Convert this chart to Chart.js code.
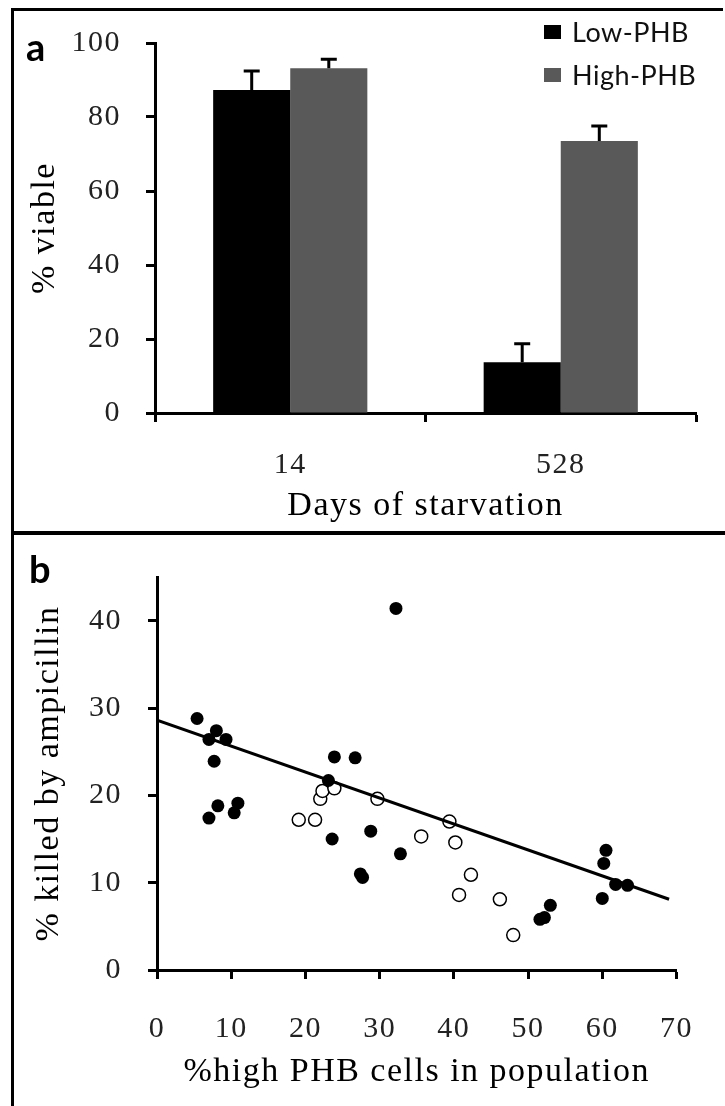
<!DOCTYPE html>
<html>
<head>
<meta charset="utf-8">
<script src="https://cdn.jsdelivr.net/npm/chart.js@4.4.1/dist/chart.umd.min.js"></script>
<style>
  body { margin: 0; background: #fff; }
  #wrap { position: relative; width: 725px; height: 1106px; overflow: hidden; background: #fff; }
  canvas { position: absolute; left: 0; }
  #chartA { top: 0; }
  #chartB { top: 533px; }
  .line { position: absolute; background: #000; }
  .tag { position: absolute; font-family: Lato; font-weight: bold; font-size: 38px; line-height: 38px; color: #000; }
  #legend { position: absolute; left: 544px; top: 10px; font-family: Lato; font-size: 27px; color: #111; letter-spacing: 0.5px; }
  #legend .row { display: flex; align-items: center; height: 43px; }
  #legend .sw { width: 17px; height: 14px; margin-right: 11px; }
</style>
</head>
<body>
<div id="wrap">
  <!-- cadre des deux panneaux -->
  <div class="line" style="left:11px;top:8px;width:712px;height:3px"></div>
  <div class="line" style="left:11px;top:8px;width:3px;height:1098px"></div>
  <div class="line" style="left:11px;top:531px;width:714px;height:4px"></div>

  <canvas id="chartA" width="725" height="533"></canvas>
  <canvas id="chartB" width="725" height="573"></canvas>

  <div class="tag" style="left:26px;top:27px">a</div>
  <div class="tag" style="left:29px;top:549px">b</div>
  <div id="legend"></div>
</div>

<script>
// --- panneau a : viabilité ---
const days = ['14', '528'];
const lowPHB = [87.3, 13.7];
const highPHB = [93.2, 73.5];
const lowErr = [5.1, 5.0];
const highErr = [2.4, 4.1];
const yTicksA = [0, 20, 40, 60, 80, 100];

// --- panneau b : ampicilline ---
const filledX = [5.4, 7.0, 8.0, 9.3, 7.7, 8.2, 7.0, 10.9, 10.4, 23.1, 23.9, 26.7, 23.6, 28.8, 32.8, 27.4, 27.7, 32.2, 51.6, 52.2, 53.0, 60.5, 60.2, 60.0, 61.8, 63.4];
const filledY = [28.8, 26.4, 27.4, 26.4, 23.9, 18.8, 17.4, 19.1, 18.0, 21.7, 24.4, 24.3, 15.0, 15.9, 13.3, 11.0, 10.6, 41.4, 5.8, 6.0, 7.4, 13.7, 12.2, 8.2, 9.8, 9.7];
const openX = [19.1, 21.3, 22.0, 22.3, 23.9, 29.7, 35.6, 39.4, 40.2, 42.3, 40.7, 46.2, 48.0];
const openY = [17.2, 17.2, 19.6, 20.5, 20.8, 19.6, 15.3, 17.0, 14.6, 10.9, 8.6, 8.1, 4.0];
const trendX = [0, 69];
const trendY = [28.6, 8.1];
const xTicksB = [0, 10, 20, 30, 40, 50, 60, 70];
const yTicksB = [0, 10, 20, 30, 40];

const serif = 'Liberation Serif';

// espacement des lettres comme dans la figure d'origine
const spacing = {
  id: 'spacing',
  beforeUpdate(chart) { chart.ctx.letterSpacing = '1.5px'; },
  beforeDraw(chart) { chart.ctx.letterSpacing = '1.5px'; }
};

// barres d'erreur (seulement vers le haut)
const errorBars = {
  id: 'errorBars',
  afterDatasetsDraw(chart) {
    const ctx = chart.ctx;
    const yScale = chart.scales.y;
    chart.data.datasets.forEach((ds, i) => {
      const meta = chart.getDatasetMeta(i);
      meta.data.forEach((bar, j) => {
        const top = yScale.getPixelForValue(ds.data[j] + ds.errors[j]);
        ctx.save();
        ctx.strokeStyle = '#000';
        ctx.lineWidth = 3;
        ctx.beginPath();
        ctx.moveTo(bar.x, bar.y);
        ctx.lineTo(bar.x, top);
        ctx.moveTo(bar.x - 8, top);
        ctx.lineTo(bar.x + 8, top);
        ctx.stroke();
        ctx.restore();
      });
    });
  }
};

function axisGrid() {
  return { drawOnChartArea: false, drawTicks: true, tickLength: 9, tickWidth: 3, tickColor: '#000' };
}
const axisBorder = { display: true, color: '#000', width: 3 };
const tickFont = { family: serif, size: 30 };
const titleFont = { family: serif, size: 34 };

const chartA = new Chart(document.getElementById('chartA'), {
  type: 'bar',
  data: {
    labels: days,
    datasets: [
      { label: 'Low-PHB', data: lowPHB, errors: lowErr, backgroundColor: '#000000',
        categoryPercentage: 0.57, barPercentage: 1.0 },
      { label: 'High-PHB', data: highPHB, errors: highErr, backgroundColor: '#595959',
        categoryPercentage: 0.57, barPercentage: 1.0 }
    ]
  },
  options: {
    responsive: false,
    animation: false,
    layout: { padding: { top: 33, right: 29, left: 0, bottom: 0 } },
    plugins: { legend: { display: false }, tooltip: { enabled: false } },
    scales: {
      x: {
        offset: true,
        grid: Object.assign(axisGrid(), { offset: true }),
        border: axisBorder,
        ticks: { color: '#222', font: tickFont, padding: 25, maxRotation: 0 },
        title: { display: true, text: 'Days of starvation', color: '#000', font: titleFont, padding: { top: 0, bottom: 7 } },
        afterFit(s) { s.height = 120; }
      },
      y: {
        min: 0, max: 100,
        afterBuildTicks(s) { s.ticks = yTicksA.map(v => ({ value: v })); },
        grid: axisGrid(),
        border: axisBorder,
        ticks: { color: '#222', font: tickFont, padding: 25 },
        title: { display: true, text: '% viable', color: '#000', font: titleFont, padding: { top: 25, bottom: 0 } },
        afterFit(s) { s.width = 155; }
      }
    }
  },
  plugins: [spacing, errorBars]
});

// légende du panneau a
const legend = document.getElementById('legend');
chartA.data.datasets.forEach(ds => {
  const row = document.createElement('div');
  row.className = 'row';
  row.innerHTML = '<span class="sw" style="background:' + ds.backgroundColor + '"></span>' + ds.label;
  legend.appendChild(row);
});

const chartB = new Chart(document.getElementById('chartB'), {
  type: 'scatter',
  data: {
    datasets: [
      { label: 'trend', data: trendX.map((x, i) => ({ x: x, y: trendY[i] })), showLine: true,
        borderColor: '#000', borderWidth: 3, pointRadius: 0, order: 0 },
      { label: 'filled', data: filledX.map((x, i) => ({ x: x, y: filledY[i] })),
        backgroundColor: '#000', borderColor: '#000', borderWidth: 0, pointRadius: 6.5, order: 1 },
      { label: 'open', data: openX.map((x, i) => ({ x: x, y: openY[i] })),
        backgroundColor: '#fff', borderColor: '#000', borderWidth: 1.5, pointRadius: 6.5, order: 1 }
    ]
  },
  options: {
    responsive: false,
    animation: false,
    layout: { padding: { top: 21, right: 29, left: 0, bottom: 0 } },
    plugins: { legend: { display: false }, tooltip: { enabled: false } },
    scales: {
      x: {
        type: 'linear', min: 0, max: 70,
        afterBuildTicks(s) { s.ticks = xTicksB.map(v => ({ value: v })); },
        grid: axisGrid(),
        border: axisBorder,
        ticks: { color: '#222', font: tickFont, padding: 32, maxRotation: 0 },
        title: { display: true, text: '%high PHB cells in population', color: '#000', font: titleFont, padding: { top: 0, bottom: 14 } },
        afterFit(s) { s.height = 136; }
      },
      y: {
        type: 'linear', min: 0, max: 45,
        afterBuildTicks(s) { s.ticks = yTicksB.map(v => ({ value: v })); },
        grid: axisGrid(),
        border: axisBorder,
        ticks: { color: '#222', font: tickFont, padding: 26 },
        title: { display: true, text: '% killed by ampicillin', color: '#000', font: titleFont, padding: { top: 29, bottom: 0 } },
        afterFit(s) { s.width = 157; }
      }
    }
  },
  plugins: [spacing]
});
</script>
</body>
</html>
